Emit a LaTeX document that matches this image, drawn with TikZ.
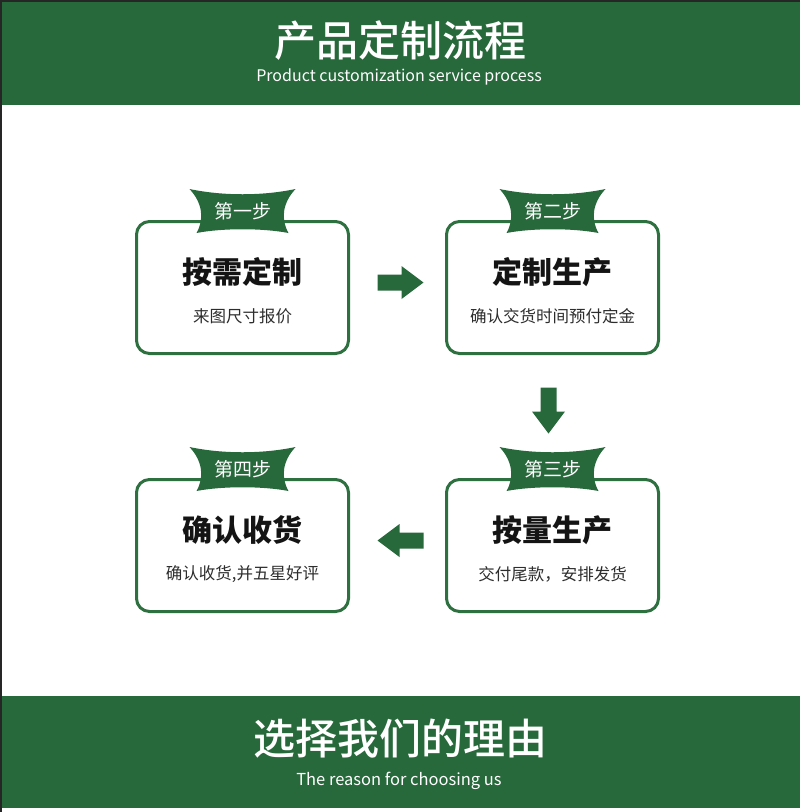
\documentclass[tikz,border=0pt]{standalone}
\usepackage{fontspec}
\newfontfamily\cjk{Noto Sans CJK SC}
\newfontfamily\cjkm{Noto Sans CJK SC Medium}
\usetikzlibrary{calc}
\definecolor{gr}{RGB}{40,105,60}
\definecolor{bx}{RGB}{46,112,64}
\definecolor{subtxt}{RGB}{45,45,45}
\begin{document}
\begin{tikzpicture}[x=1pt,y=-1pt,font=\cjk,
  box/.style={draw=bx, line width=3pt, rounded corners=13pt, minimum width=212pt, minimum height=132pt, fill=white, inner sep=0pt},
  boxtitle/.style={font=\cjk\bfseries\fontsize{30}{30}\selectfont, text=black!92, inner sep=0pt},
  boxsub/.style={font=\cjk\fontsize{16.5}{16.5}\selectfont, text=subtxt, inner sep=0pt},
  badgetext/.style={font=\cjk\fontsize{19}{19}\selectfont, text=white, inner sep=0pt},
  bigtitle/.style={font=\cjkm\fontsize{42}{42}\selectfont, text=white, inner sep=0pt},
  entitle/.style={font=\cjk\fontsize{16}{16}\selectfont, text=white, inner sep=0pt},
  badge/.pic={\fill[gr] (-53,-22) .. controls (-20,-15) and (20,-15) .. (53,-22)
      .. controls (40,-8) and (38,8) .. (46,22)
      .. controls (20,17) and (-20,17) .. (-46,22)
      .. controls (-38,8) and (-40,-8) .. cycle;},
  blockarrow/.pic={\fill[gr] (-23,-8) -- (1,-8) -- (1,-16.5) -- (23,0) -- (1,16.5) -- (1,8) -- (-23,8) -- cycle;}
]
\useasboundingbox (0,0) rectangle (800,812);
\fill[white] (0,0) rectangle (800,812);
% header
\fill[gr] (0,0) rectangle (800,105);
\node[bigtitle] (htitle) at (400,41) {产品定制流程};
\node[entitle] (hsub) at (399,77) {Product customization service process};
% footer
\fill[gr] (0,696) rectangle (800,808);
\node[bigtitle] (ftitle) at (400,739) {选择我们的理由};
\node[entitle, font=\cjk\fontsize{16.5}{16.5}\selectfont] (fsub) at (399,781) {The reason for choosing us};
% frame edges
\fill[black!85] (0,0) rectangle (800,2);
\fill[black!85] (0,0) rectangle (2,812);
% boxes
\node[box] (b1) at (242.5,287.5) {};
\node[box] (b2) at (552.5,287.5) {};
\node[box] (b3) at (552.5,545.5) {};
\node[box] (b4) at (242.5,545.5) {};
% badges
\pic at ($(b1.north)+(0,-9)$) {badge};
\pic at ($(b2.north)+(0,-9)$) {badge};
\pic at ($(b3.north)+(0,-9)$) {badge};
\pic at ($(b4.north)+(0,-9)$) {badge};
\node[badgetext] (s1) at ($(b1.north)+(0,-9)$) {第一步};
\node[badgetext] (s2) at ($(b2.north)+(0,-9)$) {第二步};
\node[badgetext] (s3) at ($(b3.north)+(0,-9)$) {第三步};
\node[badgetext] (s4) at ($(b4.north)+(0,-9)$) {第四步};
% texts
\node[boxtitle] (t1) at ($(b1.north)+(0,52)$) {按需定制};
\node[boxsub] (u1) at ($(b1.north)+(0,96)$) {来图尺寸报价};
\node[boxtitle] (t2) at ($(b2.north)+(0,52)$) {定制生产};
\node[boxsub] (u2) at ($(b2.north)+(0,96)$) {确认交货时间预付定金};
\node[boxtitle] (t3) at ($(b3.north)+(0,52)$) {按量生产};
\node[boxsub] (u3) at ($(b3.north)+(0,96)$) {交付尾款，安排发货};
\node[boxtitle] (t4) at ($(b4.north)+(0,52)$) {确认收货};
\node[boxsub] (u4) at ($(b4.north)+(0,96)$) {确认收货,并五星好评};
% arrows
\pic at ($(b1.east)!0.5!(b2.west)+(3,-5)$) {blockarrow};
\pic[rotate=-90] at ($(b2.south)!0.5!(b3.north)+(-4,-6)$) {blockarrow};
\pic[rotate=180] at ($(b3.west)!0.5!(b4.east)+(3,-5)$) {blockarrow};
\end{tikzpicture}
\end{document}
